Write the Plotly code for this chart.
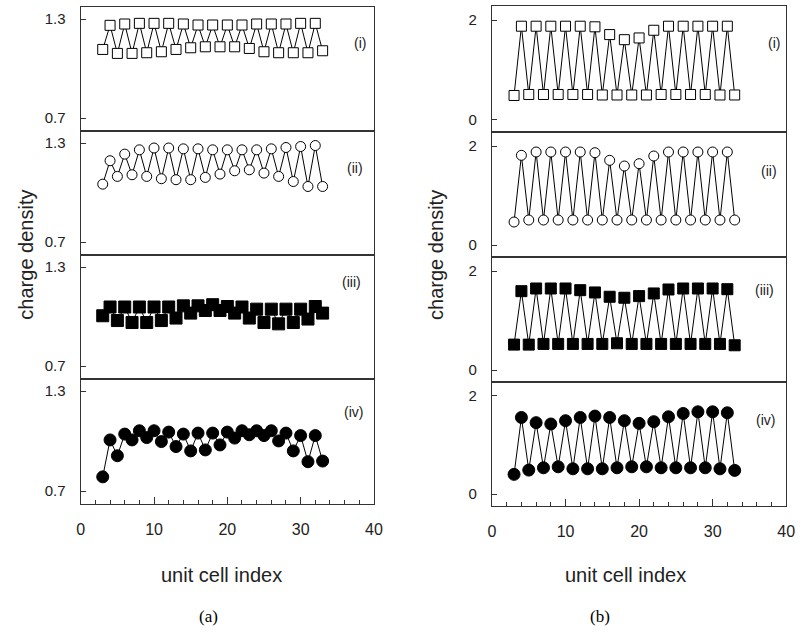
import plotly.graph_objects as go

# ---------------- data ----------------
cell_index = [3, 4, 5, 6, 7, 8, 9, 10, 11, 12, 13, 14, 15, 16, 17, 18, 19, 20,
              21, 22, 23, 24, 25, 26, 27, 28, 29, 30, 31, 32, 33]

a_i = [1.116, 1.262, 1.092, 1.270, 1.092, 1.274, 1.096, 1.274, 1.102, 1.274,
       1.116, 1.270, 1.126, 1.264, 1.132, 1.264, 1.132, 1.264, 1.132, 1.264,
       1.122, 1.270, 1.102, 1.270, 1.096, 1.270, 1.096, 1.274, 1.096, 1.274, 1.108]
a_ii = [1.051, 1.193, 1.098, 1.233, 1.108, 1.259, 1.098, 1.270, 1.084, 1.270,
        1.078, 1.265, 1.078, 1.265, 1.092, 1.259, 1.112, 1.259, 1.132, 1.259,
        1.138, 1.259, 1.118, 1.265, 1.098, 1.273, 1.067, 1.279, 1.037, 1.285, 1.037]
a_iii = [1.005, 1.058, 0.976, 1.058, 0.964, 1.058, 0.964, 1.058, 0.976, 1.058,
         0.991, 1.065, 1.021, 1.065, 1.037, 1.072, 1.037, 1.061, 1.021, 1.058,
         0.991, 1.045, 0.964, 1.045, 0.956, 1.045, 0.964, 1.045, 0.985, 1.061, 1.021]
a_iv = [0.785, 1.007, 0.912, 1.042, 1.007, 1.062, 1.021, 1.062, 0.997, 1.054,
        0.967, 1.042, 0.941, 1.048, 0.947, 1.048, 0.977, 1.054, 1.018, 1.062,
        1.038, 1.062, 1.033, 1.062, 1.001, 1.048, 0.941, 1.033, 0.876, 1.033, 0.880]

b_i = [0.49, 1.878, 0.51, 1.878, 0.51, 1.878, 0.51, 1.878, 0.51, 1.878,
       0.51, 1.866, 0.50, 1.710, 0.50, 1.608, 0.50, 1.643, 0.50, 1.797,
       0.51, 1.878, 0.51, 1.878, 0.51, 1.878, 0.51, 1.878, 0.50, 1.878, 0.50]
b_ii = [0.465, 1.812, 0.505, 1.879, 0.505, 1.879, 0.505, 1.879, 0.505, 1.879,
        0.505, 1.865, 0.505, 1.711, 0.505, 1.596, 0.505, 1.643, 0.505, 1.798,
        0.505, 1.879, 0.505, 1.879, 0.505, 1.879, 0.505, 1.879, 0.505, 1.879, 0.505]
b_iii = [0.513, 1.593, 0.513, 1.647, 0.527, 1.647, 0.527, 1.647, 0.527, 1.613,
         0.527, 1.567, 0.527, 1.480, 0.540, 1.460, 0.527, 1.493, 0.527, 1.547,
         0.527, 1.627, 0.527, 1.647, 0.527, 1.647, 0.527, 1.647, 0.527, 1.633, 0.500]
b_iv = [0.402, 1.561, 0.489, 1.455, 0.536, 1.428, 0.556, 1.495, 0.515, 1.561,
        0.515, 1.589, 0.515, 1.561, 0.536, 1.495, 0.556, 1.441, 0.556, 1.475,
        0.536, 1.575, 0.536, 1.642, 0.536, 1.676, 0.536, 1.676, 0.515, 1.656, 0.483]

a_ticks = [0.7, 1.3]
b_ticks = [0, 2]
x_ticks = [0, 10, 20, 30, 40]
panel_labels = ["(i)", "(ii)", "(iii)", "(iv)"]

# ---------------- layout helpers ----------------
W, H = 805, 637
FONT = "Liberation Sans"
TXT = "#222222"
LINE = "#333333"


def px_x(p):
    return p / W


def px_y(p):
    return 1 - p / H


panels = [
    # (series, symbol, size, xpx range, ypx range, yrange, yticks, label pos)
    (a_i, "square-open", 10, (78, 376), (7, 131), (0.622, 1.373), a_ticks, (38.1, 1.155)),
    (a_ii, "circle-open", 10, (78, 376), (131, 255), (0.622, 1.373), a_ticks, (37.4, 1.150)),
    (a_iii, "square", 12, (78, 376), (255, 379), (0.622, 1.373), a_ticks, (36.9, 1.211)),
    (a_iv, "circle", 12, (78, 376), (379, 504), (0.622, 1.373), a_ticks, (37.2, 1.177)),
    (b_i, "square-open", 10, (496, 795), (6, 132), (-0.242, 2.283), b_ticks, (38.4, 1.548)),
    (b_ii, "circle-open", 10, (496, 795), (132, 257), (-0.242, 2.283), b_ticks, (37.7, 1.495)),
    (b_iii, "square", 11, (496, 795), (257, 382), (-0.242, 2.283), b_ticks, (37.0, 1.620)),
    (b_iv, "circle", 12, (496, 795), (382, 506), (-0.242, 2.283), b_ticks, (37.2, 1.515)),
]

fig = go.Figure()
annotations = []
layout = dict(
    width=W, height=H,
    margin=dict(l=0, r=0, t=0, b=0),
    paper_bgcolor="white", plot_bgcolor="white",
    showlegend=False,
    font=dict(family=FONT, size=14, color=TXT),
)

for k, (vals, sym, size, xr, yr, yrange, yt, lab) in enumerate(panels):
    n = k + 1
    xa = "xaxis" if n == 1 else f"xaxis{n}"
    ya = "yaxis" if n == 1 else f"yaxis{n}"
    xref = "x" if n == 1 else f"x{n}"
    yref = "y" if n == 1 else f"y{n}"
    filled = not sym.endswith("open")
    base_sym = sym.replace("-open", "")
    fig.add_trace(go.Scatter(
        x=cell_index, y=vals, xaxis=xref, yaxis=yref,
        mode="lines+markers",
        line=dict(color="black", width=1),
        marker=dict(symbol=base_sym, size=size,
                    color="black" if filled else "white",
                    line=dict(color="black", width=1)),
        hoverinfo="skip",
    ))
    bottom = (k % 4) == 3
    layout[xa] = dict(
        domain=[px_x(xr[0]), px_x(xr[1])], anchor=yref,
        range=[0, 40], showline=True, linecolor=LINE, linewidth=1.3, mirror=True,
        showgrid=False, zeroline=False,
        tickvals=x_ticks if bottom else [],
        showticklabels=bottom,
        ticks="inside" if bottom else "", ticklen=7, tickcolor=LINE,
        ticklabelstandoff=11,
        tickfont=dict(family=FONT, size=16, color=TXT),
        minor=dict(dtick=2, tick0=0, ticks="inside", ticklen=4, tickcolor=LINE) if bottom else dict(ticks=""),
    )
    layout[ya] = dict(
        domain=[px_y(yr[1]), px_y(yr[0])], anchor=xref,
        range=list(yrange), showline=True, linecolor=LINE, linewidth=1.3, mirror=True,
        showgrid=False, zeroline=False,
        tickvals=yt, ticks="inside", ticklen=5, tickcolor=LINE,
        ticklabelstandoff=11,
        tickfont=dict(family=FONT, size=15, color=TXT),
    )
    annotations.append(dict(
        x=lab[0], y=lab[1], xref=xref, yref=yref, text=panel_labels[k % 4],
        xanchor="center", yanchor="middle",
        showarrow=False, font=dict(family=FONT, size=14, color=TXT),
    ))

# axis titles and panel captions
for cx in (22, 439):
    annotations.append(dict(x=px_x(cx), y=px_y(255), xref="paper", yref="paper",
                            xanchor="center", yanchor="middle",
                            text="charge density", textangle=-90, showarrow=False,
                            font=dict(family=FONT, size=20, color=TXT)))
for cx in (221, 632):
    annotations.append(dict(x=px_x(cx), y=px_y(575), xref="paper", yref="paper",
                            xanchor="center", yanchor="middle",
                            text="unit cell index", showarrow=False,
                            font=dict(family=FONT, size=20, color=TXT)))
for cx, t in ((208, "(a)"), (606, "(b)")):
    annotations.append(dict(x=px_x(cx), y=px_y(616), xref="paper", yref="paper",
                            xanchor="center", yanchor="middle",
                            text=t, showarrow=False,
                            font=dict(family="Liberation Serif", size=17, color="black")))

layout["annotations"] = annotations
fig.update_layout(**layout)
fig.write_html("out.html")
